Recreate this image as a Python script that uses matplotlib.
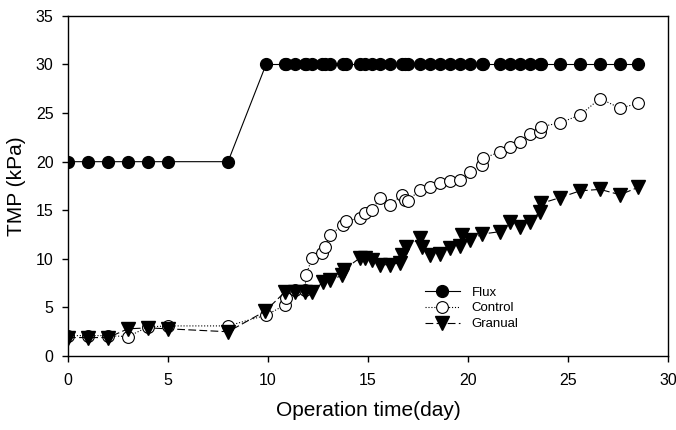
import matplotlib
matplotlib.use('Agg')
import matplotlib.pyplot as plt

plt.rcParams['font.family'] = ['Liberation Sans', 'DejaVu Sans']

# Operation time (day) and TMP (kPa)
flux_day = [0, 1, 2, 3, 4, 5, 8, 9.9, 10.85, 10.9, 11.35, 11.85, 11.9, 12.2, 12.7,
            12.85, 13.1, 13.75, 13.9, 14.6, 14.85, 15.2, 15.6, 16.1, 16.7, 16.85,
            17.0, 17.6, 18.1, 18.6, 19.1, 19.6, 20.1, 20.7, 20.75, 21.6, 22.1,
            22.6, 23.1, 23.6, 23.65, 24.6, 25.6, 26.6, 27.6, 28.5]
flux_tmp = [20, 20, 20, 20, 20, 20, 20, 30, 30, 30, 30, 30, 30, 30, 30,
            30, 30, 30, 30, 30, 30, 30, 30, 30, 30, 30,
            30, 30, 30, 30, 30, 30, 30, 30, 30, 30, 30,
            30, 30, 30, 30, 30, 30, 30, 30, 30]

control_day = [0, 1, 2, 3, 4, 5, 8, 9.9, 10.85, 10.9, 11.35, 11.85, 11.9, 12.2, 12.7,
               12.85, 13.1, 13.75, 13.9, 14.6, 14.85, 15.2, 15.6, 16.1, 16.7, 16.85,
               17.0, 17.6, 18.1, 18.6, 19.1, 19.6, 20.1, 20.7, 20.75, 21.6, 22.1,
               22.6, 23.1, 23.6, 23.65, 24.6, 25.6, 26.6, 27.6, 28.5]
control_tmp = [2.1, 2.1, 2.1, 2.0, 3.0, 3.1, 3.1, 4.2, 5.25, 6.0, 6.8, 6.8, 8.3, 10.1, 10.6,
               11.25, 12.45, 13.5, 13.9, 14.2, 14.7, 15.0, 16.3, 15.5, 16.6, 16.1,
               16.0, 17.1, 17.4, 17.8, 18.0, 18.1, 18.9, 19.7, 20.35, 21.0, 21.55,
               22.05, 22.85, 23.1, 23.6, 24.0, 24.8, 26.5, 25.5, 26.0]

granual_day = [0, 1, 2, 3, 4, 5, 8, 9.85, 10.85, 11.35, 11.85, 12.2, 12.75, 13.1, 13.7,
               13.8, 14.6, 14.85, 15.2, 15.6, 16.1, 16.6, 16.7, 16.9, 17.6, 17.7,
               18.1, 18.6, 19.1, 19.6, 19.7, 20.1, 20.7, 21.6, 22.1, 22.6, 23.1,
               23.6, 23.65, 24.6, 25.6, 26.6, 27.6, 28.5]
granual_tmp = [1.9, 1.9, 1.9, 2.8, 2.9, 2.8, 2.5, 4.6, 6.6, 6.6, 6.6, 6.6, 7.6, 7.8, 8.3,
               8.9, 10.1, 10.1, 9.9, 9.4, 9.4, 9.6, 10.4, 11.2, 12.1, 11.25,
               10.4, 10.5, 11.1, 11.3, 12.5, 11.9, 12.55, 12.8, 13.8, 13.3, 13.8,
               14.85, 15.7, 16.3, 17.0, 17.15, 16.6, 17.35]

fig = plt.figure(figsize=(6.76, 4.30), dpi=100)
ax = fig.add_axes([0.1006, 0.172, 0.8876, 0.791])

ax.plot(flux_day, flux_tmp, color='black', lw=0.8, ls='-',
        marker='o', ms=8.5, mfc='black', mec='black', label='Flux')
ax.plot(control_day, control_tmp, color='black', lw=0.8, ls=':',
        marker='o', ms=8.5, mfc='white', mec='black', mew=0.8, label='Control')
ax.plot(granual_day, granual_tmp, color='black', lw=0.8, ls=(0, (7, 3)),
        marker='v', ms=9.5, mfc='black', mec='black', label='Granual')

ax.set_xlim(0, 30)
ax.set_ylim(0, 35)
ax.set_xticks(range(0, 31, 5))
ax.set_yticks(range(0, 36, 5))
ax.tick_params(direction='out', length=4.5, width=1, labelsize=11.5)
ax.tick_params(axis='x', pad=8)
ax.tick_params(axis='y', pad=6)
for s in ax.spines.values():
    s.set_linewidth(1.0)

ax.set_xlabel('Operation time(day)', fontsize=15, labelpad=9)
ax.set_ylabel('TMP (kPa)', fontsize=15, labelpad=7)

ax.legend(loc='upper left', bbox_to_anchor=(0.595, 0.205), frameon=False,
          fontsize=9.5, handlelength=2.65, handletextpad=0.9, labelspacing=0.27,
          borderaxespad=0, borderpad=0)

fig.savefig('out.png', dpi=100)
